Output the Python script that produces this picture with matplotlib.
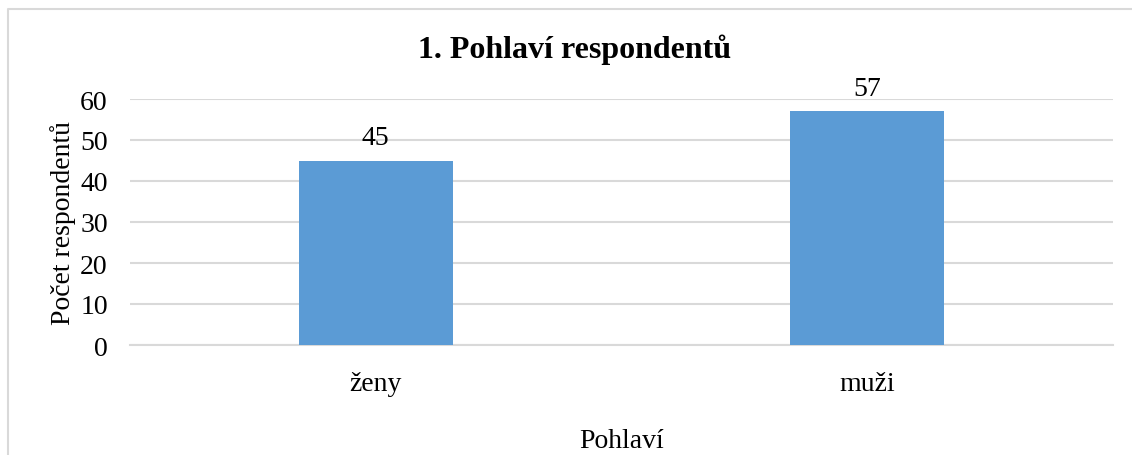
import matplotlib.pyplot as plt
from matplotlib.lines import Line2D

kategorie = ["ženy", "muži"]
pocty = [45, 57]
yticks = [0, 10, 20, 30, 40, 50, 60]

plt.rcParams['font.family'] = ['Liberation Serif', 'DejaVu Serif']

fig = plt.figure(figsize=(11.32, 4.56), dpi=100)
W, H = 1132, 456
ax = fig.add_axes([130 / W, 1 - 346 / H, (1113 - 130) / W, (346 - 100) / H])

# ramecek grafu (jen levy a horni okraj jsou videt)
yt = 1 - 10 / H
fig.lines.append(Line2D([8 / W, 8 / W, 1.0], [0.0, yt, yt], transform=fig.transFigure,
                        color='#d9d9d9', linewidth=1.5))

x = range(len(kategorie))
bars = ax.bar(x, pocty, width=0.313, color='#5B9BD5', zorder=3)
for b, v in zip(bars, pocty):
    ax.text(b.get_x() + b.get_width() / 2, v + 2.6, str(v), ha='center', va='bottom', fontsize=20)

ax.set_xlim(-0.5, 1.5)
ax.set_ylim(0, 60)
ax.set_yticks(yticks)
ax.set_xticks(list(x))
ax.set_xticklabels(kategorie)
ax.tick_params(axis='both', length=0, labelsize=20)
ax.tick_params(axis='y', pad=16)
ax.tick_params(axis='x', pad=19)
ax.grid(axis='y', color='#d9d9d9', linewidth=1.5, zorder=0)
for s in ['top', 'right', 'left']:
    ax.spines[s].set_visible(False)
ax.spines['bottom'].set_color('#d9d9d9')
ax.spines['bottom'].set_linewidth(1.5)

ax.set_ylabel("Počet respondentů", fontsize=20, labelpad=3)
fig.text(0.5 * (130 + 1113) / W, 1 - 442 / H, "Pohlaví", ha='center', va='center', fontsize=20)
fig.text(575 / W, 1 - 50 / H, "1. Pohlaví respondentů", ha='center', va='center',
         fontsize=23, fontweight='bold')

fig.savefig("out.png", dpi=100)
